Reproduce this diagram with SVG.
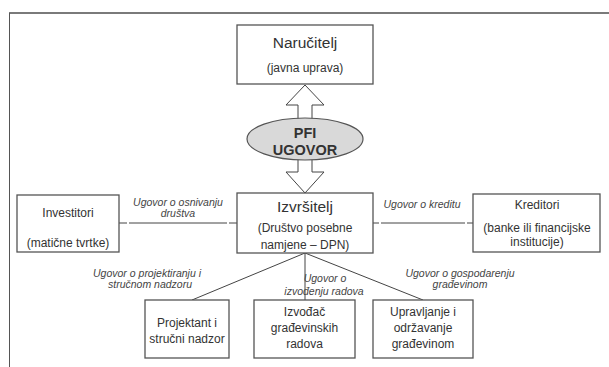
<svg xmlns="http://www.w3.org/2000/svg" width="609" height="367" viewBox="0 0 609 367">
<defs>
<style>
.box{fill:#fff;stroke:#555;stroke-width:1.3}
.t{font-family:"Liberation Sans",Arial,sans-serif;fill:#333;text-anchor:middle}
.big{font-size:15.5px}
.sm{font-size:12px}
.lbl{font-family:"Liberation Sans",Arial,sans-serif;font-style:italic;font-size:10.5px;fill:#444;text-anchor:middle}
.ln{stroke:#444;stroke-width:1;fill:none}
</style>
</defs>
<rect width="609" height="367" fill="#fff"/>
<g id="frame">
<line x1="9" y1="13" x2="609" y2="13" stroke="#7a7a7a" stroke-width="2"/>
<line x1="9.5" y1="13" x2="9.5" y2="367" stroke="#555" stroke-width="1"/>
</g>
<g id="connectors">
<path d="M305,85 L324,105 L312,105 L312,120 L298,120 L298,105 L286,105 Z" fill="#fff" stroke="#444" stroke-width="1"/>
<path d="M298,158 L312,158 L312,172 L324,172 L305,193 L286,172 L298,172 Z" fill="#fff" stroke="#444" stroke-width="1"/>
<line class="ln" x1="119" y1="223" x2="237" y2="223" stroke-dasharray="8 2 98 2 8"/>
<line class="ln" x1="373" y1="223" x2="473" y2="223" stroke-dasharray="6 2 84 2 6"/>
<line class="ln" x1="305" y1="253" x2="192" y2="300"/>
<line class="ln" x1="305" y1="253" x2="305" y2="300"/>
<line class="ln" x1="305" y1="253" x2="423" y2="300"/>
<text class="lbl" x="178" y="206">Ugovor o osnivanju</text>
<text class="lbl" x="178" y="217">društva</text>
<text class="lbl" x="422" y="208">Ugovor o kreditu</text>
<text class="lbl" x="147" y="277">Ugovor o projektiranju i</text>
<text class="lbl" x="150" y="288">stručnom nadzoru</text>
<text class="lbl" x="325" y="282">Ugovor o</text>
<text class="lbl" x="324" y="295">izvođenju radova</text>
<text class="lbl" x="460" y="277">Ugovor o gospodarenju</text>
<text class="lbl" x="460" y="288">građevinom</text>
</g>
<g id="pfi">
<ellipse cx="305" cy="139" rx="58" ry="21" fill="#d9d9d9" stroke="#555" stroke-width="1.2"/>
<text class="t" x="305" y="138" font-size="14.5" font-weight="bold" fill="#222">PFI</text>
<text class="t" x="305" y="155" font-size="14.5" font-weight="bold" fill="#222">UGOVOR</text>
</g>
<g id="narucitelj">
<rect class="box" x="237" y="25" width="136" height="59"/>
<text class="t big" x="305" y="48">Naručitelj</text>
<text class="t sm" x="305" y="72">(javna uprava)</text>
</g>
<g id="izvrsitelj">
<rect class="box" x="237" y="193" width="136" height="60"/>
<text class="t big" x="305" y="212">Izvršitelj</text>
<text class="t sm" x="305" y="232">(Društvo posebne</text>
<text class="t sm" x="305" y="249">namjene – DPN)</text>
</g>
<g id="investitori">
<rect class="box" x="17" y="195" width="102" height="57"/>
<text class="t sm" x="68" y="217">Investitori</text>
<text class="t sm" x="68" y="247">(matične tvrtke)</text>
</g>
<g id="kreditori">
<rect class="box" x="473" y="194" width="127" height="58"/>
<text class="t sm" x="537" y="209">Kreditori</text>
<text class="t sm" x="537" y="232">(banke ili financijske</text>
<text class="t sm" x="537" y="246">institucije)</text>
</g>
<g id="projektant">
<rect class="box" x="145" y="300" width="84" height="58"/>
<text class="t sm" x="187" y="327">Projektant i</text>
<text class="t sm" x="187" y="343">stručni nadzor</text>
</g>
<g id="izvodac">
<rect class="box" x="254" y="300" width="101" height="58"/>
<text class="t sm" x="304.5" y="316">Izvođač</text>
<text class="t sm" x="304.5" y="332">građevinskih</text>
<text class="t sm" x="304.5" y="348">radova</text>
</g>
<g id="upravljanje">
<rect class="box" x="373" y="300" width="100" height="58"/>
<text class="t sm" x="423" y="316">Upravljanje i</text>
<text class="t sm" x="423" y="332">održavanje</text>
<text class="t sm" x="423" y="348">građevinom</text>
</g>
</svg>
